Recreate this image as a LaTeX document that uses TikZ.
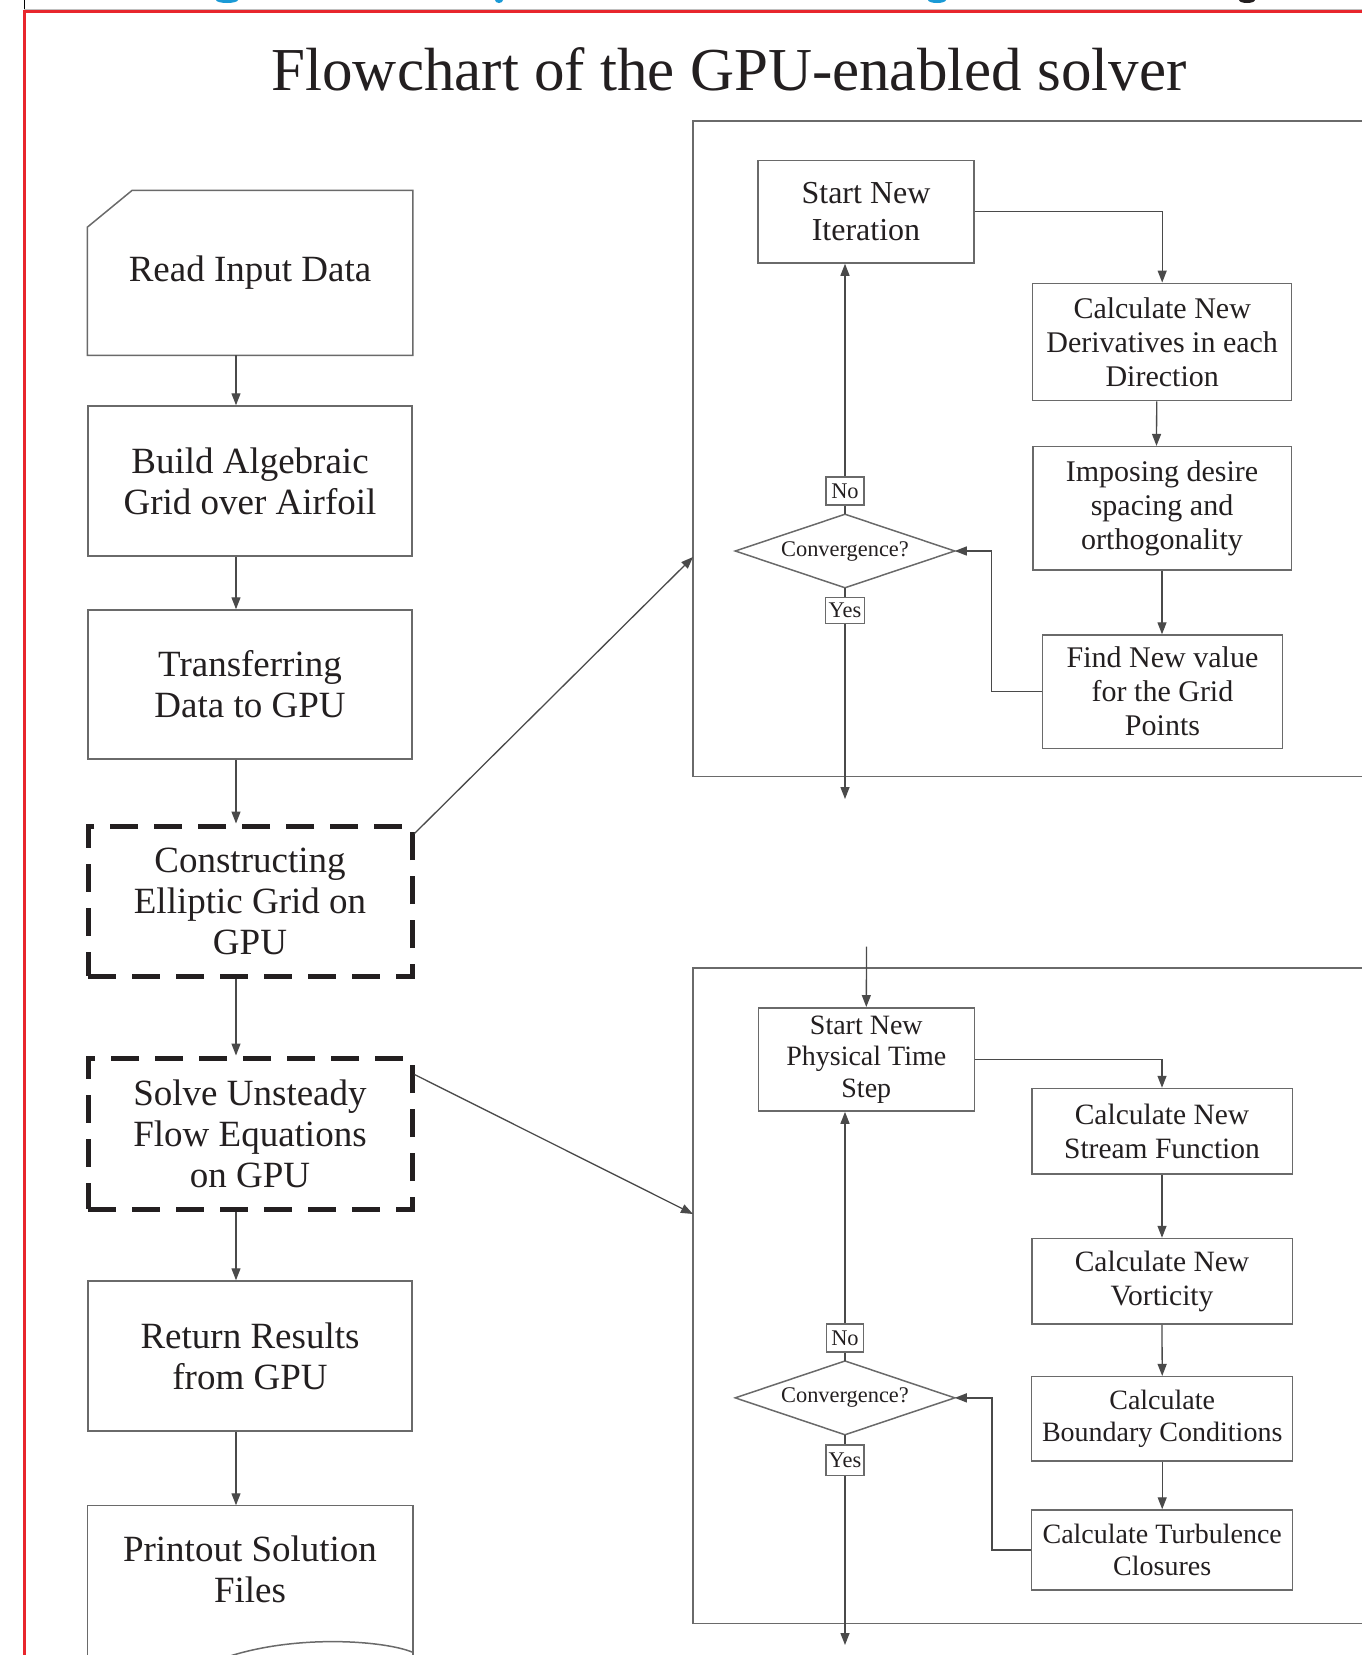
\documentclass[tikz,border=0pt]{standalone}
\usepackage{fontspec}
\setmainfont{Liberation Serif}
\usetikzlibrary{arrows.meta}
\definecolor{lg}{HTML}{6A6A6A}
\definecolor{cg}{HTML}{4A4A4A}
\definecolor{tx}{HTML}{231F20}
\definecolor{redb}{HTML}{E8262D}
\definecolor{blu}{HTML}{1A9AD6}
\begin{document}
\begin{tikzpicture}[x=1pt,y=-1pt,
  box/.style={draw=lg, line width=1.5pt, text=tx, align=center, inner sep=0pt, font=\fontsize{30}{34}\selectfont},
  lbox/.style={box, font=\fontsize{37}{41}\selectfont, minimum width=324pt},
  dbox/.style={lbox, draw=tx, line width=5pt, dash pattern=on 28pt off 16pt},
  small/.style={box, font=\fontsize{22.4}{24}\selectfont},
  outline/.style={draw=lg, line width=1.5pt},
  arr/.style={draw=cg, line width=1.3pt, -{Triangle[length=12pt,width=9pt]}},
  ln/.style={draw=cg, line width=1.3pt},
  panel/.style={draw=lg, line width=1.5pt},
]
\useasboundingbox (0,0) rectangle (1362,1655);
\clip (0,0) rectangle (1362,1655);

% page frame remnants
\fill[blu] (227,0) ellipse (11pt and 3pt);
\fill[blu] (499,0) ellipse (4pt and 3pt);
\fill[blu] (937,0) ellipse (9pt and 3pt);
\fill[tx] (1247,0) ellipse (8pt and 3pt);
\draw[gray!50, line width=0.8pt] (24,9) -- (1362,9);
\draw[black, line width=0.8pt] (24,0) -- (24,9);
\draw[redb, line width=3pt] (1370,11.5) -- (24,11.5) -- (24,1665);

% title
\node[font=\fontsize{61}{70}\selectfont, text=tx, anchor=base, inner sep=0pt] (title) at (729,90) {Flowchart of the GPU-enabled solver};

% left column
\node[lbox, draw=none, minimum height=163.5pt] (read) at (250,272.75) {Read Input Data};
\draw[outline] ([yshift=-37pt]read.north west) -- ([xshift=45pt]read.north west) -- (read.north east) -- (read.south east) -- (read.south west) -- cycle;
\node[lbox, minimum height=150pt] (build) at (250,481) {Build Algebraic\\Grid over Airfoil};
\node[lbox, minimum height=149pt] (transfer) at (250,684.5) {Transferring\\Data to GPU};
\node[dbox, minimum height=150pt] (construct) at (250,901) {Constructing\\Elliptic Grid on\\GPU};
\node[dbox, minimum height=151pt] (solve) at (250,1133.5) {Solve Unsteady\\Flow Equations\\on GPU};
\node[lbox, minimum height=150pt] (ret) at (250,1356) {Return Results\\from GPU};
\node[lbox, draw=none, minimum height=127pt] (print) at (250,1569.5) {Printout Solution\\Files};
\draw[outline] ([yshift=-170pt]print.north west) -- (print.north west) -- (print.north east) -- ([yshift=-170pt]print.north east);
\draw[outline] (412,1652) .. controls (385,1641) and (300,1634) .. (230,1656);

\foreach \a/\b in {read/build, build/transfer, transfer/construct, construct/solve, solve/ret, ret/print}
  \draw[arr] ([xshift=-14pt]\a.south) -- ([xshift=-14pt]\b.north);

% panels
\draw[panel] (1380,121) -| (693,776.7) -- (1380,776.7);
\draw[panel] (1380,968) -| (693,1623.5) -- (1380,1623.5);
\coordinate (p1in) at (693,557);
\coordinate (p2in) at (693,1214);
\draw[arr] ([yshift=-10pt]construct.north east) -- (p1in);
\draw[arr] ([yshift=-19pt]solve.north east) -- (p2in);

% top panel
\node[box, font=\fontsize{32}{37}\selectfont, minimum width=216pt, minimum height=102.5pt] (iter) at (866,211.75) {Start New\\Iteration};
\node[box, minimum width=259pt, minimum height=117.4pt] (deriv) at (1162.2,342) {Calculate New\\Derivatives in each\\Direction};
\node[box, minimum width=258.5pt, minimum height=123.3pt] (impose) at (1162,508.3) {Imposing desire\\spacing and\\orthogonality};
\node[box, minimum width=240.4pt, minimum height=113.3pt] (findnew) at (1162.5,691.7) {Find New value\\for the Grid\\Points};
\node[small, draw=none, minimum width=218pt, minimum height=72pt] (conv1) at (845,551) {Convergence?};
\draw[outline] (conv1.west) -- (conv1.north) -- (conv1.east) -- (conv1.south) -- cycle;
\node[small, minimum width=38pt, minimum height=28pt] (no1) at (845,491) {No};
\node[small, minimum width=39pt, minimum height=26pt] (yes1) at (845,610.5) {Yes};
\coordinate (out1) at (845,799);

\draw[ln] (conv1.north) -- (no1.south);
\draw[arr] (no1.north) -- (no1.north |- iter.south);
\draw[ln] (conv1.south) -- (yes1.north);
\draw[arr] (yes1.south) -- (out1);
\draw[arr] (iter.east) -| (deriv.north);
\draw[arr] ([xshift=-5.5pt]deriv.south) -- ([xshift=-5.5pt]impose.north);
\draw[arr] (impose.south) -- (impose.south |- findnew.north);
\draw[arr] (findnew.west) -- ++(-50,0) |- (conv1.east);

% bottom panel
\coordinate (in2) at (866.5,946.7);
\node[box, font=\fontsize{28}{31.7}\selectfont, minimum width=216pt, minimum height=103.3pt] (phys) at (866.3,1059.4) {Start New\\Physical Time\\Step};
\node[box, font=\fontsize{29.5}{33.5}\selectfont, minimum width=260.5pt, minimum height=85.5pt] (stream) at (1162,1131.25) {Calculate New\\Stream Function};
\node[box, font=\fontsize{29.5}{33.5}\selectfont, minimum width=260.5pt, minimum height=85.5pt] (vort) at (1162,1281.25) {Calculate New\\Vorticity};
\node[box, font=\fontsize{28}{31.7}\selectfont, minimum width=261pt, minimum height=84.3pt] (bound) at (1162.2,1418.85) {Calculate\\Boundary Conditions};
\node[box, font=\fontsize{28}{31.7}\selectfont, minimum width=261pt, minimum height=80pt] (turb) at (1162.2,1550) {Calculate Turbulence\\Closures};
\node[small, draw=none, minimum width=218pt, minimum height=72.3pt] (conv2) at (845,1397.85) {Convergence?};
\draw[outline] (conv2.west) -- (conv2.north) -- (conv2.east) -- (conv2.south) -- cycle;
\node[small, minimum width=37pt, minimum height=28.3pt] (no2) at (845,1338) {No};
\node[small, minimum width=38.3pt, minimum height=30.7pt] (yes2) at (845,1460.3) {Yes};
\coordinate (out2) at (845,1645);

\draw[arr] (in2) -- (phys.north);
\draw[arr] (phys.east) -| (stream.north);
\draw[arr] (stream.south) -- (vort.north);
\draw[arr] (vort.south) -- (bound.north);
\draw[arr] (bound.south) -- (turb.north);
\draw[arr] (turb.west) -- ++(-39,0) |- (conv2.east);
\draw[ln] (conv2.north) -- (no2.south);
\draw[arr] (no2.north) -- (no2.north |- phys.south);
\draw[ln] (conv2.south) -- (yes2.north);
\draw[arr] (yes2.south) -- (out2);
\end{tikzpicture}
\end{document}
